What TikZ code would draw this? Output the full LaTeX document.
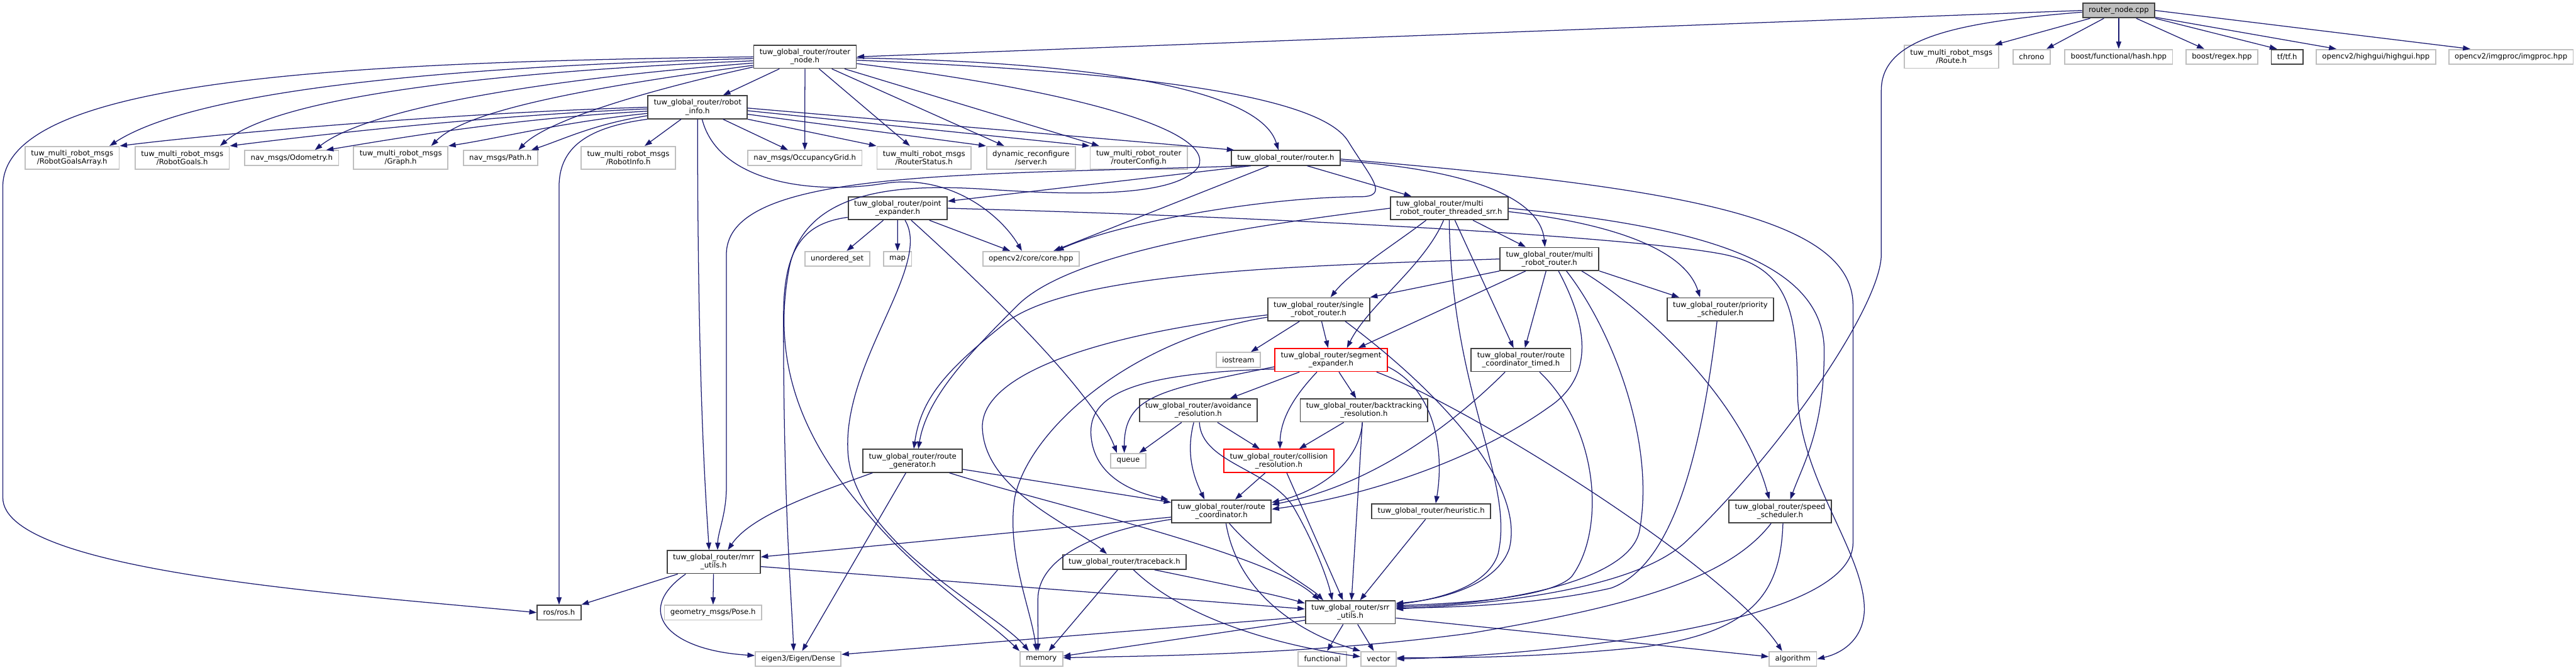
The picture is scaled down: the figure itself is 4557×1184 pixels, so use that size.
\documentclass[tikz,border=0pt]{standalone}
\usepackage{fontspec}
\setmainfont{DejaVu Sans}
\usepackage{xcolor}
\usepackage{tikz}
\usetikzlibrary{arrows.meta}
\definecolor{edgeblue}{RGB}{25,25,112}

\begin{document}
\begin{tikzpicture}[
		x=1pt, y=-1pt,
		base/.style={rectangle, fill=white, inner xsep=10.5pt, inner ysep=2pt, minimum height=26pt, align=center, font=\fontsize{13pt}{14.5pt}\selectfont},
		block/.style={base, draw=black!75, line width=2pt},
		extblock/.style={base, draw=black!25, line width=2pt},
		redblock/.style={base, draw=red, line width=2pt},
		specialblock/.style={block, fill=black!25},
		tall/.style={minimum height=40.5pt},
		arrow/.style={-{Triangle[length=13pt, width=9pt]}, draw=edgeblue, line width=1.4pt}
	]
	\useasboundingbox (0,0) rectangle (4557,1184);

	% top rows
	\node[specialblock] (C) at (3748,18.5) {router\_node.cpp};
	\node[block, tall] (N) at (1424,100.5) {tuw\_global\_router/router\\\_node.h};
	\node[extblock, tall] (Route) at (3452,100.5) {tuw\_multi\_robot\_msgs\\/Route.h};
	\node[extblock] (Chrono) at (3594,100.5) {chrono};
	\node[extblock] (Hash) at (3748,100.5) {boost/functional/hash.hpp};
	\node[extblock] (Regex) at (3930.5,100.5) {boost/regex.hpp};
	\node[block] (TF) at (4046,100.5) {tf/tf.h};
	\node[extblock] (HG) at (4203,100.5) {opencv2/highgui/highgui.hpp};
	\node[extblock] (IP) at (4442,100.5) {opencv2/imgproc/imgproc.hpp};
	\node[block, tall] (RI) at (1234,189.6) {tuw\_global\_router/robot\\\_info.h};

	% message headers
	\node[extblock, tall] (RGA) at (127.6,279.3) {tuw\_multi\_robot\_msgs\\/RobotGoalsArray.h};
	\node[extblock, tall] (RGo) at (322.3,279.3) {tuw\_multi\_robot\_msgs\\/RobotGoals.h};
	\node[extblock] (Odo) at (516,279.3) {nav\_msgs/Odometry.h};
	\node[extblock, tall] (Gr) at (708.9,279.3) {tuw\_multi\_robot\_msgs\\/Graph.h};
	\node[extblock] (Pa) at (885.2,279.3) {nav\_msgs/Path.h};
	\node[extblock, tall] (RInfo) at (1111.4,279.3) {tuw\_multi\_robot\_msgs\\/RobotInfo.h};
	\node[extblock] (OG) at (1423.7,279.3) {nav\_msgs/OccupancyGrid.h};
	\node[extblock, tall] (RS) at (1634.6,279.3) {tuw\_multi\_robot\_msgs\\/RouterStatus.h};
	\node[extblock, tall] (DS) at (1823.9,279.3) {dynamic\_reconfigure\\/server.h};
	\node[extblock, tall] (RCfg) at (2014.5,279.3) {tuw\_multi\_robot\_router\\/routerConfig.h};
	\node[block] (R) at (2274.5,279.3) {tuw\_global\_router/router.h};

	% router internals
	\node[block, tall] (PE) at (1588,368.3) {tuw\_global\_router/point\\\_expander.h};
	\node[block, tall, align=left] (MT) at (2563.7,368.3) {tuw\_global\_router/multi\\\_robot\_router\_threaded\_srr.h};
	\node[extblock] (US) at (1481,457.7) {unordered\_set};
	\node[extblock] (Map) at (1587.7,457.7) {map};
	\node[extblock] (Core) at (1823.8,457.7) {opencv2/core/core.hpp};
	\node[block, tall] (MR) at (2741,458) {tuw\_global\_router/multi\\\_robot\_router.h};
	\node[block, tall] (SR) at (2332.7,547) {tuw\_global\_router/single\\\_robot\_router.h};
	\node[block, tall] (PS) at (3043.4,547) {tuw\_global\_router/priority\\\_scheduler.h};
	\node[extblock] (IO) at (2190.5,636.4) {iostream};
	\node[redblock, tall] (SE) at (2354.7,636.6) {tuw\_global\_router/segment\\\_expander.h};
	\node[block, tall] (RCT) at (2690.6,636.6) {tuw\_global\_router/route\\\_coordinator\_timed.h};
	\node[block, tall] (AR) at (2119.8,725.8) {tuw\_global\_router/avoidance\\\_resolution.h};
	\node[block, tall] (BR) at (2413,725.8) {tuw\_global\_router/backtracking\\\_resolution.h};
	\node[extblock] (Q) at (1995.8,815) {queue};
	\node[redblock, tall] (CR) at (2262.3,815) {tuw\_global\_router/collision\\\_resolution.h};
	\node[block, tall] (RG) at (1614.5,815) {tuw\_global\_router/route\\\_generator.h};
	\node[block, tall] (RC) at (2160.8,904.5) {tuw\_global\_router/route\\\_coordinator.h};
	\node[block] (H) at (2531.8,904.3) {tuw\_global\_router/heuristic.h};
	\node[block, tall] (SS) at (3149,904.5) {tuw\_global\_router/speed\\\_scheduler.h};
	\node[block, tall] (MU) at (1262.4,993.9) {tuw\_global\_router/mrr\\\_utils.h};
	\node[block] (TB) at (1989.2,993.7) {tuw\_global\_router/traceback.h};

	% bottom rows
	\node[block] (Ros) at (989,1083.3) {ros/ros.h};
	\node[extblock] (Pose) at (1261.3,1083.3) {geometry\_msgs/Pose.h};
	\node[block, tall] (SU) at (2388.8,1082.9) {tuw\_global\_router/srr\\\_utils.h};
	\node[extblock] (Eig) at (1412,1165.3) {eigen3/Eigen/Dense};
	\node[extblock] (Mem) at (1842.2,1165.3) {memory};
	\node[extblock] (Fun) at (2339.3,1165.3) {functional};
	\node[extblock] (Vec) at (2438.7,1165.3) {vector};
	\node[extblock] (Alg) at (3171.7,1165.3) {algorithm};

	% router_node.cpp
	\draw[arrow] (C.west) -- (N.east);
	\draw[arrow] (C) -- (Route);
	\draw[arrow] (C) -- (Chrono);
	\draw[arrow] (C) -- (Hash);
	\draw[arrow] (C) -- (Regex);
	\draw[arrow] (C.south east) -- ([xshift=-18pt]TF.north);
	\draw[arrow] ([yshift=2pt]C.south east) -- ([xshift=-70pt]HG.north);
	\draw[arrow] (C.east) -- ([xshift=-72pt]IP.north);
	\draw[arrow] ([yshift=-3pt]C.west) .. controls (3450,40) and (3328,70) .. (3328,160) -- (3328,450) .. controls (3328,540) and (3150,800) .. (2980,960) .. controls (2880,1050) and (2600,1070) .. ([yshift=6pt]SU.east);

	% router_node.h
	\draw[arrow] (N) -- (RI);
	\draw[arrow] (N) -- (OG);
	\draw[arrow] (N) -- (RS);
	\draw[arrow] (N) -- (DS);
	\draw[arrow] (N) -- (RCfg);
	\draw[arrow] ([yshift=-2pt]N.east) .. controls (1950,110) and (2230,160) .. ([xshift=-13pt]R.north);
	\draw[arrow] (N.west) .. controls (600,110) and (5,140) .. (5,330) -- (5,880) .. controls (5,1010) and (600,1050) .. (Ros.west);
	\draw[arrow] ([yshift=-3pt]N.west) .. controls (700,120) and (330,170) .. ([xshift=66pt]RGA.north);
	\draw[arrow] ([yshift=-7pt]N.west) .. controls (800,130) and (480,180) .. ([xshift=67pt]RGo.north);
	\draw[arrow] ([yshift=-11pt]N.west) .. controls (900,145) and (640,200) .. ([xshift=41pt]Odo.north);
	\draw[arrow] ([yshift=-15pt]N.west) .. controls (1000,160) and (820,200) .. ([xshift=54pt]Gr.north);
	\draw[arrow] ([yshift=-18pt]N.west) .. controls (1100,170) and (960,220) .. ([xshift=32pt]Pa.north);
	\draw[arrow] ([yshift=-6pt]N.east) .. controls (1950,125) and (2330,160) .. (2385,250) .. controls (2425,315) and (2460,348) .. (2405,348) .. controls (2250,348) and (1990,390) .. ([xshift=45pt]Core.north);
	\draw[arrow] ([yshift=-12pt]N.east) .. controls (1900,160) and (2150,230) .. (2120,295) .. controls (2080,350) and (1900,345) .. (1750,335) .. controls (1600,325) and (1420,330) .. (1395,480) .. controls (1370,620) and (1400,760) .. (1540,915) .. controls (1640,1030) and (1740,1090) .. (Mem.north west);

	% robot_info.h
	\draw[arrow] (RI.west) .. controls (800,200) and (400,235) .. (RGA.north east);
	\draw[arrow] ([yshift=-3pt]RI.west) .. controls (850,205) and (550,240) .. (RGo.north east);
	\draw[arrow] ([yshift=-7pt]RI.west) .. controls (900,210) and (700,245) .. ([xshift=-23pt]Odo.north east);
	\draw[arrow] ([yshift=-11pt]RI.west) .. controls (1000,215) and (880,245) .. (Gr.north east);
	\draw[arrow] ([yshift=-15pt]RI.west) .. controls (1050,220) and (1000,245) .. ([xshift=-12pt]Pa.north east);
	\draw[arrow] (RI) -- (RInfo);
	\draw[arrow] (RI.south west) .. controls (1040,225) and (989,260) .. (989,330) -- (Ros.north);
	\draw[arrow] (RI.south) .. controls (1234,700) and (1250,900) .. ([xshift=-8pt]MU.north);
	\draw[arrow] (RI) -- (OG);
	\draw[arrow] (RI.south east) -- (RS.north west);
	\draw[arrow] (RI.-8) -- (DS.north west);
	\draw[arrow] (RI.-4) -- (RCfg.north west);
	\draw[arrow] (RI.-1) -- ([xshift=6pt]R.north west);
	\draw[arrow] ([xshift=8pt]RI.south) .. controls (1270,320) and (1430,345) .. (1560,325) .. controls (1680,305) and (1770,380) .. ([xshift=-16pt]Core.north);

	% router.h
	\draw[arrow] ([xshift=-70pt]R.south) .. controls (1700,310) and (1285,300) .. (1285,450) -- (1285,860) .. controls (1285,910) and (1270,940) .. ([xshift=7pt]MU.north);
	\draw[arrow] ([xshift=-62pt]R.south) -- (PE.8);
	\draw[arrow] ([xshift=-30pt]R.south) -- ([xshift=40pt]Core.north);
	\draw[arrow] ([xshift=38pt]R.south) -- ([xshift=-67pt]MT.north);
	\draw[arrow] ([yshift=-5pt]R.east) .. controls (2600,300) and (2725,350) .. ([xshift=-8pt]MR.north);
	\draw[arrow] ([yshift=-2pt]R.east) .. controls (2950,330) and (3278,380) .. (3278,540) -- (3278,960) .. controls (3278,1110) and (2700,1160) .. (Vec.east);

	% point_expander.h
	\draw[arrow] (PE) -- (US);
	\draw[arrow] (PE) -- (Map);
	\draw[arrow] (PE) -- (Core);
	\draw[arrow] ([xshift=24pt]PE.south) .. controls (1690,460) and (1930,680) .. ([xshift=-20pt]Q.north);
	\draw[arrow] ([xshift=13pt]PE.south) .. controls (1650,470) and (1490,640) .. (1500,800) .. controls (1510,960) and (1760,1080) .. ([xshift=-22pt]Mem.north);
	\draw[arrow] ([yshift=-16pt]PE.west) .. controls (1420,395) and (1386,440) .. (1386,560) .. controls (1386,900) and (1400,1050) .. ([xshift=-8pt]Eig.north);
	\draw[arrow] (PE.east) .. controls (2300,385) and (2900,420) .. (3050,450) .. controls (3170,475) and (3179,560) .. (3180,700) .. controls (3185,850) and (3300,980) .. (3298,1080) .. controls (3296,1130) and (3260,1155) .. (Alg.east);

	% multi_robot_router_threaded_srr.h
	\draw[arrow] (MT) -- (MR);
	\draw[arrow] ([xshift=-41pt]MT.south) .. controls (2470,430) and (2390,480) .. ([xshift=21pt]SR.north);
	\draw[arrow] ([xshift=-10pt]MT.south) .. controls (2520,470) and (2420,540) .. ([xshift=28pt]SE.north);
	\draw[arrow] ([xshift=10pt]MT.south) -- ([xshift=-13pt]RCT.north);
	\draw[arrow] (MT.south) .. controls (2568,700) and (2680,850) .. (2650,980) .. controls (2630,1040) and (2540,1060) .. ([yshift=14pt]SU.east);
	\draw[arrow] ([yshift=-6pt]MT.east) .. controls (2850,395) and (2980,440) .. ([xshift=-36pt]PS.north);
	\draw[arrow] (MT.east) .. controls (3000,400) and (3227,460) .. (3227,620) .. controls (3227,760) and (3190,820) .. ([xshift=18pt]SS.north);
	\draw[arrow] (MT.west) .. controls (2250,395) and (1900,440) .. (1800,540) .. controls (1720,620) and (1640,700) .. ([xshift=10pt]RG.north);

	% multi_robot_router.h
	\draw[arrow] (MR.west) .. controls (2300,470) and (1900,480) .. (1780,570) .. controls (1680,650) and (1630,700) .. ([xshift=2pt]RG.north);
	\draw[arrow] (MR.south west) -- (SR.north east);
	\draw[arrow] ([xshift=-42pt]MR.south) -- ([xshift=48pt]SE.north);
	\draw[arrow] ([xshift=-6pt]MR.south) -- ([xshift=7pt]RCT.north);
	\draw[arrow] ([xshift=16pt]MR.south) .. controls (2800,560) and (2830,660) .. (2740,720) .. controls (2600,820) and (2400,880) .. ([yshift=4pt]RC.east);
	\draw[arrow] ([xshift=30pt]MR.south) .. controls (2850,580) and (2930,780) .. (2900,940) .. controls (2880,1030) and (2650,1070) .. ([yshift=10pt]SU.east);
	\draw[arrow] (MR.south east) -- ([xshift=-73pt]PS.north);
	\draw[arrow] ([xshift=57pt]MR.south) .. controls (2900,540) and (3080,700) .. ([xshift=-19pt]SS.north);

	% single_robot_router.h
	\draw[arrow] (SR) -- (IO);
	\draw[arrow] (SR) -- (SE);
	\draw[arrow] ([xshift=47pt]SR.south) .. controls (2530,680) and (2700,850) .. (2670,970) .. controls (2650,1030) and (2560,1060) .. ([yshift=16pt]SU.east);
	\draw[arrow] ([yshift=-10pt]SR.west) .. controls (1950,590) and (1730,660) .. (1738,760) .. controls (1745,870) and (1900,930) .. ([xshift=-31pt]TB.north);
	\draw[arrow] ([yshift=-14pt]SR.west) .. controls (2000,600) and (1820,760) .. (1795,880) .. controls (1780,980) and (1825,1080) .. ([xshift=-9pt]Mem.north);

	% priority_scheduler.h
	\draw[arrow] ([xshift=-6pt]PS.south) .. controls (3010,800) and (2960,1000) .. (2850,1040) .. controls (2720,1070) and (2560,1075) .. ([yshift=8pt]SU.east);

	% segment_expander.h
	\draw[arrow] (SE) -- (AR);
	\draw[arrow] (SE) -- (BR);
	\draw[arrow] ([xshift=-25pt]SE.south) .. controls (2290,700) and (2265,740) .. ([xshift=2pt]CR.north);
	\draw[arrow] ([yshift=-12pt]SE.east) .. controls (2540,690) and (2555,800) .. ([xshift=8pt]H.north);
	\draw[arrow] ([xshift=-20pt]SE.south east) .. controls (2600,720) and (3050,1000) .. ([xshift=-19pt]Alg.north);
	\draw[arrow] ([yshift=-12pt]SE.west) .. controls (2050,690) and (1989,700) .. ([xshift=-7pt]Q.north);
	\draw[arrow] ([yshift=-16pt]SE.west) .. controls (2000,660) and (1925,700) .. (1930,770) .. controls (1935,840) and (2000,870) .. ([xshift=-5pt]RC.north west);

	% resolution headers
	\draw[arrow] (AR) -- (Q);
	\draw[arrow] (AR) -- (CR);
	\draw[arrow] ([xshift=-8pt]AR.south) .. controls (2098,800) and (2110,840) .. ([xshift=-30pt]RC.north);
	\draw[arrow] ([xshift=2pt]AR.south) .. controls (2125,820) and (2250,830) .. (2290,900) .. controls (2330,970) and (2350,1030) .. ([xshift=-32pt]SU.north);
	\draw[arrow] (BR) -- (CR);
	\draw[arrow] ([xshift=-3pt]BR.south) .. controls (2405,820) and (2330,870) .. ([yshift=16pt]RC.east);
	\draw[arrow] ([xshift=-3pt]BR.south) -- ([xshift=2pt]SU.north);
	\draw[arrow] (CR) -- (RC);
	\draw[arrow] ([xshift=14pt]CR.south) -- ([xshift=-13pt]SU.north);

	% route_generator.h and route_coordinator.h
	\draw[arrow] ([xshift=-71pt]RG.south) .. controls (1450,870) and (1330,910) .. ([xshift=25pt]MU.north);
	\draw[arrow] ([xshift=-12pt]RG.south) -- ([xshift=7pt]Eig.north);
	\draw[arrow] ([yshift=-15pt]RG.east) -- ([yshift=16pt]RC.west);
	\draw[arrow] ([xshift=65pt]RG.south) .. controls (1850,890) and (2250,980) .. ([xshift=-55pt]SU.north);
	\draw[arrow] ([yshift=-10pt]RC.west) -- ([yshift=9pt]MU.east);
	\draw[arrow] ([yshift=-14pt]RC.west) .. controls (1930,940) and (1836,990) .. (1836,1060) -- ([xshift=-6pt]Mem.north);
	\draw[arrow] ([xshift=8pt]RC.south) .. controls (2190,1050) and (2300,1120) .. (Vec.north west);
	\draw[arrow] ([xshift=14pt]RC.south) .. controls (2230,990) and (2320,1040) .. ([xshift=-48pt]SU.north);
	\draw[arrow] ([xshift=-28pt]RCT.south) .. controls (2560,760) and (2420,860) .. ([yshift=12pt]RC.east);
	\draw[arrow] ([xshift=33pt]RCT.south) .. controls (2830,760) and (2840,940) .. (2780,1020) .. controls (2740,1060) and (2560,1068) .. ([yshift=12pt]SU.east);
	\draw[arrow] ([xshift=-10pt]H.south) -- ([xshift=17pt]SU.north);

	% speed_scheduler.h
	\draw[arrow] ([xshift=-16pt]SS.south) .. controls (3060,1020) and (2900,1070) .. (2600,1120) .. controls (2300,1160) and (2000,1160) .. ([yshift=2pt]Mem.east);
	\draw[arrow] ([xshift=5pt]SS.south) .. controls (3150,1050) and (3100,1120) .. (2900,1145) .. controls (2700,1165) and (2550,1163) .. ([yshift=2pt]Vec.east);

	% mrr_utils.h and traceback.h
	\draw[arrow] ([xshift=20pt]MU.south west) -- (Ros.north east);
	\draw[arrow] (MU) -- (Pose);
	\draw[arrow] ([xshift=34pt]MU.south west) .. controls (1120,1080) and (1180,1150) .. ([yshift=6pt]Eig.west);
	\draw[arrow] ([yshift=-8pt]MU.east) -- ([yshift=6pt]SU.west);
	\draw[arrow] ([xshift=-12pt]TB.south) -- ([xshift=13pt]Mem.north);
	\draw[arrow] ([xshift=53pt]TB.south) .. controls (2150,1030) and (2250,1050) .. ([yshift=16pt]SU.west);
	\draw[arrow] ([xshift=16pt]TB.south) .. controls (2090,1090) and (2250,1140) .. ([yshift=4pt]Vec.west);

	% srr_utils.h
	\draw[arrow] ([yshift=-8pt]SU.west) -- ([yshift=8pt]Eig.east);
	\draw[arrow] ([yshift=-14pt]SU.west) -- ([yshift=5pt]Mem.east);
	\draw[arrow] (SU) -- (Fun);
	\draw[arrow] (SU) -- (Vec);
	\draw[arrow] ([yshift=-10pt]SU.east) -- ([yshift=4pt]Alg.west);
\end{tikzpicture}
\end{document}
